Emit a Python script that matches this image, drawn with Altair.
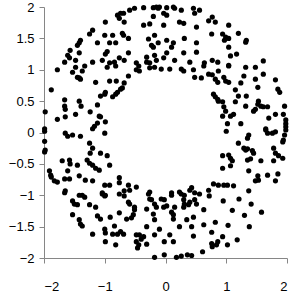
import altair as alt
import pandas as pd

xs = [
-0.99,-0.79,-0.74,-0.76,-1.20,-1.25,-1.00,-0.87,-0.71,-1.40,-1.42,-1.45,-1.12,-0.92,-0.82,-0.96,-0.99,-1.57,-1.42,-1.61,-1.58,-1.66,-1.48,-1.20,-1.04,-0.92,-0.84,-0.76,
-0.69,-0.59,-0.51,-0.36,-0.20,-0.15,-0.10,-0.12,0.02,0.13,0.15,0.26,0.46,0.56,0.48,-0.68,-0.20,-0.03,0.02,-0.36,-0.26,-0.03,0.23,0.30,0.51,-0.69,-0.61,-0.18,-0.28,0.02,0.31,-0.23,-0.20,-0.12,0.10,0.13,0.51,-0.61,-0.31,0.02,0.30,0.51,-0.18,-0.68,-0.48,-0.31,-0.26,-0.15,-0.03,0.15,0.40,0.64,
0.77,0.71,0.82,1.04,0.76,0.94,0.99,0.97,1.04,1.20,1.33,1.32,1.04,1.07,1.17,0.77,0.86,1.04,1.61,
-1.78,-1.53,-1.48,-1.33,-1.37,-1.45,-1.42,-1.40,-0.96,-0.82,-1.15,-0.92,-0.81,-0.74,-1.07,-1.00,-0.99,-0.87,-0.82,-0.79,-1.88,-1.66,-1.66,-1.65,-1.42,-1.39,-1.12,-1.98,-1.24,-1.48,-1.09,-1.07,-1.65,-1.78,-1.12,-1.17,-0.99,-1.99,
-0.44,-0.48,-0.43,-0.26,-0.18,-0.07,0.07,0.26,0.30,0.46,0.63,0.48,0.59,-0.61,-0.68,-0.71,
0.71,0.77,0.87,1.04,1.32,1.48,0.82,0.86,0.96,0.99,1.04,1.29,1.48,1.61,1.81,1.15,1.24,1.52,1.85,1.88,0.79,0.82,0.86,0.87,1.20,1.33,0.94,1.15,1.32,1.53,1.52,1.57,1.48,1.45,1.61,1.68,1.96,0.96,0.99,0.94,1.07,1.12,1.81,1.94,1.70,1.98,1.98,1.98,1.02,1.24,1.65,
-1.20,-1.99,-1.65,-1.61,-1.53,-1.40,-1.00,-1.99,-1.25,-1.98,-1.99,-1.20,-1.24,-1.07,-0.96,-1.70,-1.58,-1.57,-1.45,-1.29,-1.25,-1.20,-1.15,-1.09,-0.92,-1.91,-1.89,-1.88,-1.61,-1.42,-1.83,-1.78,-1.66,-1.58,-1.32,-1.20,-1.00,-0.92,-0.76,-0.76,-1.65,-1.04,
-0.61,-0.59,-0.48,-0.68,-0.26,0.10,0.23,0.40,0.43,0.48,
1.00,1.37,1.35,1.65,1.68,1.76,1.81,1.98,1.96,1.94,1.93,1.20,1.29,1.32,1.35,1.43,1.45,1.78,1.81,1.86,1.93,0.94,1.04,1.07,1.10,1.35,1.40,1.57,1.78,0.94,1.07,1.37,1.52,1.53,1.48,1.68,1.85,1.81,0.79,0.87,0.96,1.02,1.12,0.71,1.37,
-1.66,-1.42,-1.37,-1.33,-1.04,-1.00,-0.99,-0.76,-1.53,-1.50,-1.45,-1.25,-1.15,-1.53,-1.12,-1.07,-0.91,-0.76,-1.42,-1.40,-1.37,-1.00,-0.99,-0.84,-1.20,-0.87,-0.79,-0.74,-0.99,-0.82,
-0.68,-0.61,-0.59,-0.51,-0.51,-0.53,-0.56,-0.64,-0.28,-0.26,-0.23,-0.31,-0.18,-0.15,-0.07,-0.02,0.10,-0.03,0.02,0.15,-0.20,0.10,0.13,0.30,0.31,0.38,0.40,0.48,0.51,0.30,0.26,0.31,0.56,0.63,0.46,0.35,0.13,-0.18,-0.31,0.23,0.43,0.63,-0.69,-0.48,-0.43,-0.40,-0.36,-0.48,-0.44,-0.31,-0.18,-0.10,0.07,-0.02,0.13,0.46,
-0.18,-0.02,0.18,0.26,0.36,0.43,0.61,0.77,0.84,0.86,-0.46,
0.72,0.95,1.21,1.41,1.10,1.58,1.30,0.82,1.03,1.38,0.76,0.94,1.18,1.02,0.76,
]
ys = [
1.76,1.87,1.90,1.82,1.63,1.57,1.55,1.55,1.58,1.47,1.43,1.39,1.43,1.43,1.43,1.29,1.25,1.31,1.27,1.23,1.19,1.12,1.15,1.12,1.15,1.11,1.12,1.19,
1.90,1.95,1.98,1.99,1.99,2.00,2.00,1.98,1.99,2.00,1.98,1.95,1.98,1.95,1.90,1.76,1.85,1.90,1.87,1.71,1.73,1.71,1.76,1.74,1.68,1.55,1.50,1.55,1.49,1.47,1.50,1.39,1.36,1.43,1.36,1.43,1.43,1.27,1.20,1.27,1.27,1.28,1.23,1.15,1.11,1.12,1.11,1.15,1.19,1.15,1.12,1.11,
1.84,1.78,1.76,1.71,1.57,1.57,1.52,1.47,1.50,1.58,1.47,1.44,1.36,1.22,1.25,1.15,1.12,1.07,1.14,
1.00,0.96,1.04,1.06,0.98,0.88,0.87,0.85,1.04,1.06,0.80,0.82,0.82,0.69,0.58,0.61,0.64,0.57,0.61,0.64,0.68,0.52,0.42,0.37,0.50,0.42,0.44,0.33,0.33,0.29,0.26,0.25,0.25,0.21,0.15,0.10,0.17,0.06,
1.06,1.00,0.98,1.03,1.04,1.01,1.01,1.01,0.98,1.00,1.06,0.88,0.87,0.90,0.79,0.71,
0.93,0.92,0.98,1.06,1.04,1.04,0.85,0.80,0.88,0.82,0.80,0.90,0.85,0.93,0.84,0.68,0.79,0.72,0.69,0.64,0.61,0.57,0.53,0.50,0.58,0.58,0.49,0.49,0.42,0.50,0.45,0.42,0.37,0.34,0.41,0.41,0.42,0.41,0.34,0.26,0.26,0.29,0.29,0.29,0.23,0.20,0.14,0.09,0.14,0.14,0.06,
0.06,0.02,-0.01,-0.06,-0.04,-0.06,-0.01,-0.14,-0.17,-0.28,-0.31,-0.25,-0.33,-0.33,-0.37,-0.45,-0.44,-0.50,-0.52,-0.44,-0.49,-0.52,-0.57,-0.60,-0.52,-0.61,-0.68,-0.71,-0.61,-0.69,-0.77,-0.79,-0.74,-0.74,-0.76,-0.77,-0.84,-0.84,-0.72,-0.80,-0.93,-0.96,
-0.84,-0.92,-0.87,-0.93,-0.95,-0.96,-0.95,-0.92,-0.88,-0.96,
0.02,-0.04,-0.09,0.04,-0.01,-0.01,0.01,0.04,-0.04,-0.12,-0.15,-0.17,-0.25,-0.28,-0.26,-0.29,-0.33,-0.25,-0.33,-0.37,-0.41,-0.37,-0.36,-0.41,-0.45,-0.44,-0.42,-0.45,-0.45,-0.57,-0.53,-0.61,-0.69,-0.76,-0.77,-0.68,-0.66,-0.77,-0.82,-0.84,-0.84,-0.84,-0.85,-0.92,-0.93,
-0.96,-1.00,-1.00,-1.03,-0.98,-1.01,-1.00,-0.98,-1.09,-1.14,-1.15,-1.15,-1.19,-1.31,-1.33,-1.38,-1.35,-1.28,-1.39,-1.46,-1.49,-1.54,-1.60,-1.49,-1.62,-1.62,-1.62,-1.58,-1.74,-1.79,
-1.01,-1.11,-1.14,-1.19,-1.23,-1.31,-1.36,-1.38,-0.98,-1.06,-1.07,-1.22,-1.14,-1.19,-1.06,-1.07,-1.00,-1.19,-1.17,-1.19,-1.30,-1.27,-1.31,-1.07,-1.14,-1.15,-1.11,-1.07,-1.14,-1.19,-0.98,-1.00,-0.98,-1.23,-1.35,-1.39,-1.38,-1.39,-1.50,-1.50,-1.50,-1.47,-1.62,-1.63,-1.63,-1.70,-1.66,-1.74,-1.79,-1.78,-1.63,-1.54,-1.63,-1.74,-1.74,-1.65,
-1.99,-1.95,-1.99,-1.97,-1.95,-1.96,-1.90,-1.82,-1.79,-1.74,-1.84,
-1.01,-1.09,-1.06,-1.14,-1.24,-1.27,-1.32,-1.43,-1.48,-1.50,-1.59,-1.66,-1.71,-1.79,-1.77,
]

x_ticks = [-2, -1, 0, 1, 2]
y_ticks = [-2, -1.5, -1, -0.5, 0, 0.5, 1, 1.5, 2]

n = min(len(xs), len(ys))
df = pd.DataFrame({"x": xs[:n], "y": ys[:n]})

axis_common = dict(grid=False, domainColor="#868686", tickColor="#868686", tickSize=5,
                   labelFont="Liberation Sans", labelFontSize=13, labelColor="#000000",
                   format="~g")

chart = alt.Chart(df).mark_circle(size=27, color="#000000", opacity=1).encode(
    x=alt.X("x:Q", scale=alt.Scale(domain=[-2, 2], nice=False),
            axis=alt.Axis(values=x_ticks, title=None, labelPadding=17, **axis_common)),
    y=alt.Y("y:Q", scale=alt.Scale(domain=[-2, 2], nice=False),
            axis=alt.Axis(values=y_ticks, title=None, labelPadding=5, **axis_common)),
).properties(
    width=243, height=251,
    padding={"left": 44, "top": 7, "right": 12, "bottom": 41},
    autosize=alt.AutoSizeParams(type="none"),
).configure_view(stroke=None)

chart.save("out.html", embed_options={"renderer": "svg", "actions": False})
